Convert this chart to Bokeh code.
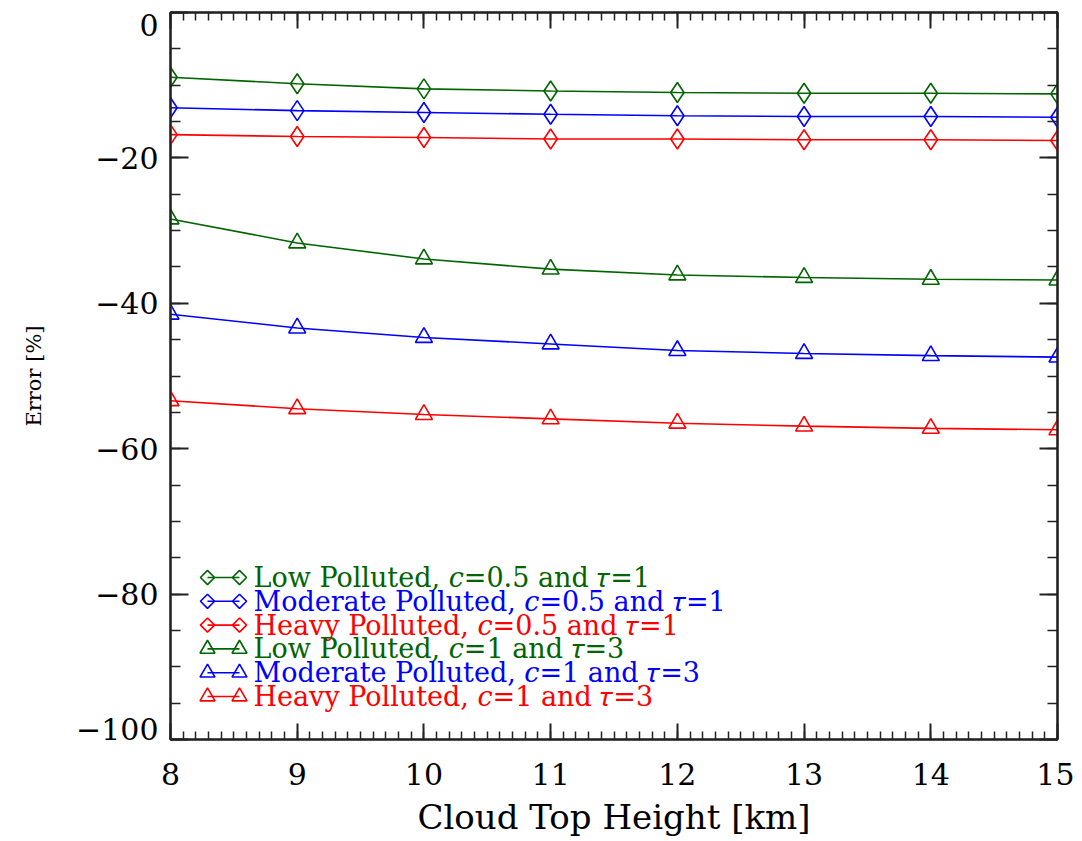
import math
from bokeh.plotting import figure
from bokeh.models import Range1d, LinearAxis, FixedTicker, CustomJSTickFormatter
from bokeh.core.properties import value
from bokeh.embed import file_html
from bokeh.resources import INLINE

# ---------------- data ----------------
heights = [8, 9, 10, 11, 12, 13, 14, 15]
low_c05 = [-8.9, -9.8, -10.5, -10.8, -11.0, -11.1, -11.1, -11.2]
mod_c05 = [-13.1, -13.5, -13.75, -14.0, -14.2, -14.3, -14.3, -14.4]
heavy_c05 = [-16.8, -17.05, -17.2, -17.4, -17.4, -17.5, -17.5, -17.6]
low_c1 = [-28.4, -31.7, -33.9, -35.3, -36.1, -36.45, -36.7, -36.8]
mod_c1 = [-41.5, -43.4, -44.7, -45.6, -46.5, -46.9, -47.2, -47.4]
heavy_c1 = [-53.4, -54.5, -55.3, -55.9, -56.5, -56.9, -57.2, -57.4]

series_labels = [
    "Low Polluted, \U0001D450=0.5 and \U0001D70F=1",
    "Moderate Polluted, \U0001D450=0.5 and \U0001D70F=1",
    "Heavy Polluted, \U0001D450=0.5 and \U0001D70F=1",
    "Low Polluted, \U0001D450=1 and \U0001D70F=3",
    "Moderate Polluted, \U0001D450=1 and \U0001D70F=3",
    "Heavy Polluted, \U0001D450=1 and \U0001D70F=3",
]
x_ticks = [8, 9, 10, 11, 12, 13, 14, 15]
y_ticks = [-100, -80, -60, -40, -20, 0]
y_tick_labels = ["\u2212100", "\u221280", "\u221260", "\u221240", "\u221220", "0"]
x_title = "Cloud Top Height [km]"
y_title = "Error [%]"

# ---------------- styles ----------------
GREEN, BLUE, RED = "#006400", "#0000ff", "#ff0000"
FONT = "DejaVu Serif"
series = [
    (low_c05, GREEN, "diamond"),
    (mod_c05, BLUE, "diamond"),
    (heavy_c05, RED, "diamond"),
    (low_c1, GREEN, "triangle"),
    (mod_c1, BLUE, "triangle"),
    (heavy_c1, RED, "triangle"),
]

FR_L, FR_R, FR_T, FR_B = 170, 1057, 12, 739
W, H = 1074, 839
X0, X1, Y0, Y1 = 8, 15, -100, 0
p = figure(
    width=W, height=H,
    x_range=Range1d(X0, X1), y_range=Range1d(Y0, Y1),
    output_backend="svg", toolbar_location=None,
    min_border_left=FR_L, min_border_right=W - FR_R,
    min_border_top=FR_T, min_border_bottom=H - FR_B,
    x_axis_type=None, y_axis_type=None,
)
p.grid.visible = False
p.outline_line_color = "black"
p.outline_line_width = 2
p.background_fill_color = "white"
p.border_fill_color = "white"

minor_x = [X0 + i * 0.1 for i in range(int((X1 - X0) * 10) + 1)]
minor_y = [Y0 + i * 5 for i in range(21)]
fmt = CustomJSTickFormatter(code="return tick < 0 ? '\\u2212' + Math.abs(tick) : String(tick);")
blank = CustomJSTickFormatter(code="return '';")


def make_axis(kind, show):
    ax = LinearAxis()
    if kind == "x":
        ax.ticker = FixedTicker(ticks=x_ticks, minor_ticks=minor_x)
        ax.major_tick_in, ax.minor_tick_in = 16, 8
    else:
        ax.ticker = FixedTicker(ticks=y_ticks, minor_ticks=minor_y)
        ax.major_tick_in, ax.minor_tick_in = 18, 10
    ax.major_tick_out = 0
    ax.minor_tick_out = 0
    ax.axis_line_width = 2
    ax.major_tick_line_width = 2
    ax.minor_tick_line_width = 1.5
    ax.axis_line_color = ax.major_tick_line_color = ax.minor_tick_line_color = "#222222"
    if show:
        ax.formatter = fmt
        ax.major_label_text_font = FONT
        ax.major_label_text_font_size = "30px"
        ax.major_label_text_color = "black"
        ax.axis_label_text_font = FONT
        ax.axis_label_text_font_style = "normal"
        ax.axis_label_text_color = "black"
    else:
        ax.formatter = blank
        ax.major_label_standoff = 0
    return ax


bx = make_axis("x", True)
bx.axis_label = x_title
bx.axis_label_text_font_size = "34px"
bx.major_label_standoff = 23
bx.axis_label_standoff = 9
p.add_layout(bx, "below")

# left axis: ticks only (next to the frame)
ly = make_axis("y", False)
p.add_layout(ly, "left")

# left label axis: end labels sit inside the axis range, as in the reference
label_shift_px = {0: 12, -100: -11}          # downward pixel shift of the end labels
px_per_unit = (FR_B - FR_T) / (Y1 - Y0)
label_pos = [t - label_shift_px.get(t, 0) / px_per_unit for t in y_ticks]
lab_axis = LinearAxis()
lab_axis.ticker = FixedTicker(ticks=label_pos, minor_ticks=[])
lab_axis.formatter = CustomJSTickFormatter(
    args=dict(pos=label_pos, txt=y_tick_labels),
    code="""
let best = 0;
for (let i = 1; i < pos.length; i++) {
  if (Math.abs(pos[i] - tick) < Math.abs(pos[best] - tick)) best = i;
}
return txt[best];
""")
lab_axis.axis_line_color = None
lab_axis.major_tick_line_color = None
lab_axis.minor_tick_line_color = None
lab_axis.major_tick_in = 0
lab_axis.major_tick_out = 0
lab_axis.minor_tick_in = 0
lab_axis.minor_tick_out = 0
lab_axis.major_label_standoff = 12
lab_axis.major_label_text_font = FONT
lab_axis.major_label_text_font_size = "30px"
lab_axis.major_label_text_color = "black"
lab_axis.axis_label = y_title
lab_axis.axis_label_text_font = FONT
lab_axis.axis_label_text_font_style = "normal"
lab_axis.axis_label_text_font_size = "21px"
lab_axis.axis_label_text_color = "black"
lab_axis.axis_label_standoff = 27
p.add_layout(lab_axis, "left")

p.add_layout(make_axis("x", False), "above")
p.add_layout(make_axis("y", False), "right")

# ---------------- data series ----------------
for ys, col, mk in series:
    p.line(heights, ys, line_color=col, line_width=1.6)
    p.scatter(heights, ys, marker=mk, size=20 if mk == "diamond" else 17,
              fill_color=None, line_color=col, line_width=1.6)

# ---------------- legend (layout in screen pixels, converted to data) ----------------


def px_x(px):
    return X0 + (px - FR_L) * (X1 - X0) / (FR_R - FR_L)


def px_y(py):
    return Y1 - (py - FR_T) * (Y1 - Y0) / (FR_B - FR_T)


leg_m1, leg_m2, leg_txt = 207, 239, 253
leg_top, leg_step = 577, 23.8
for i, (lab, (ys, col, mk)) in enumerate(zip(series_labels, series)):
    yy = px_y(leg_top + i * leg_step)
    xa, xb = px_x(leg_m1), px_x(leg_m2)
    p.line([xa, xb], [yy, yy], line_color=col, line_width=1.6)
    if mk == "diamond":
        p.scatter([xa, xb], [yy, yy], marker="square", angle=math.pi / 4, size=10,
                  fill_color=None, line_color=col, line_width=1.6)
    else:
        p.scatter([xa, xb], [yy, yy], marker="triangle", size=15,
                  fill_color=None, line_color=col, line_width=1.6)
    p.text([px_x(leg_txt)], [yy], text=[lab], text_color=col,
           text_font=value(FONT), text_font_size="27px",
           text_baseline="middle", text_align="left")

open("out.html", "w").write(file_html(p, INLINE))
